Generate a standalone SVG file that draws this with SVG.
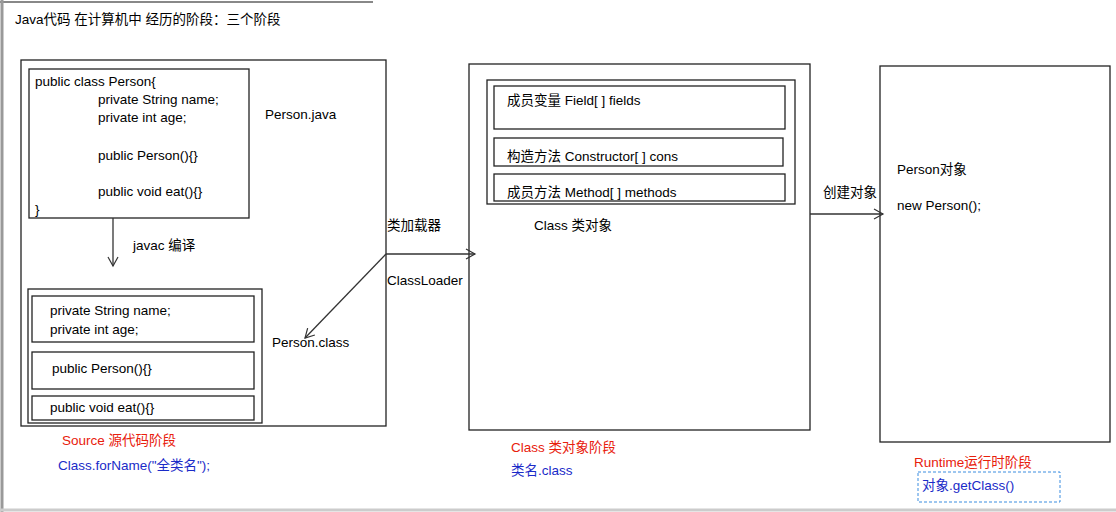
<svg xmlns="http://www.w3.org/2000/svg" width="1116" height="512" viewBox="0 0 1116 512">
<style>
text{font-family:"Liberation Sans","Noto Sans CJK SC",sans-serif;font-size:13.5px;fill:#000}
.b{fill:#fff;stroke:#222;stroke-width:1.3}
.r{fill:#e8200c}
.u{fill:#1a2bc8}
.c{stroke:#333;stroke-width:1.3;fill:none}
</style>
<defs><marker id="a" markerWidth="12" markerHeight="12" refX="10" refY="6" orient="auto" markerUnits="userSpaceOnUse"><path d="M1,1 L10,6 L1,11" fill="none" stroke="#333" stroke-width="1.2"/></marker></defs>
<rect width="1116" height="512" fill="#fff"/>
<line x1="0" y1="2" x2="373" y2="2" stroke="#888" stroke-width="2"/>
<line x1="2" y1="0" x2="2" y2="512" stroke="#999" stroke-width="3"/>
<line x1="0" y1="510" x2="1116" y2="510" stroke="#ccc" stroke-width="3"/>
<text x="15" y="24">Java代码 在计算机中 经历的阶段：三个阶段</text>
<g id="source">
<rect class="b" x="21" y="60" width="365" height="366"/>
<rect class="b" x="29" y="69" width="220" height="149"/>
<text x="35" y="86">public class Person{</text>
<text x="98" y="104">private String name;</text>
<text x="98" y="122">private int age;</text>
<text x="98" y="160">public Person(){}</text>
<text x="98" y="196">public void eat(){}</text>
<text x="35" y="214">}</text>
<text x="265" y="119">Person.java</text>
<rect class="b" x="28" y="289" width="234" height="134"/>
<rect class="b" x="32" y="296" width="222" height="46"/>
<text x="50" y="315">private String name;</text>
<text x="50" y="334">private int age;</text>
<rect class="b" x="32" y="352" width="222" height="37"/>
<text x="52" y="373">public Person(){}</text>
<rect class="b" x="32" y="396" width="222" height="24"/>
<text x="50" y="412">public void eat(){}</text>
<text x="272" y="347">Person.class</text>
<text x="133" y="250">javac 编译</text>
<text class="r" x="62" y="445">Source 源代码阶段</text>
<text class="u" x="58" y="470">Class.forName("全类名");</text>
</g>
<g id="classobj">
<rect class="b" x="469" y="64" width="341" height="366"/>
<rect class="b" x="487" y="80" width="308" height="124"/>
<rect class="b" x="494" y="86" width="291" height="43"/>
<text x="507" y="105">成员变量  Field[ ] fields</text>
<rect class="b" x="494" y="138" width="289" height="28"/>
<text x="507" y="161">构造方法  Constructor[ ] cons</text>
<rect class="b" x="494" y="174" width="291" height="27"/>
<text x="507" y="197">成员方法 Method[ ] methods</text>
<text x="534" y="230">Class 类对象</text>
<text class="r" x="511" y="452">Class 类对象阶段</text>
<text class="u" x="511" y="475">类名.class</text>
</g>
<g id="runtime">
<rect class="b" x="880" y="66" width="230" height="376"/>
<text x="897" y="174">Person对象</text>
<text x="897" y="210">new Person();</text>
<text class="r" x="914" y="467">Runtime运行时阶段</text>
<rect x="918" y="472" width="142" height="30" fill="none" stroke="#3b8de0" stroke-dasharray="3,2"/>
<text class="u" x="922" y="490">对象.getClass()</text>
</g>
<g id="connectors">
<line class="c" x1="113" y1="218" x2="113" y2="266" marker-end="url(#a)"/>
<line class="c" x1="386" y1="254" x2="475" y2="254" marker-end="url(#a)"/>
<line class="c" x1="386" y1="254" x2="305" y2="338" marker-end="url(#a)"/>
<line class="c" x1="810" y1="214" x2="883" y2="214" marker-end="url(#a)"/>
<text x="387" y="230">类加载器</text>
<text x="387" y="285">ClassLoader</text>
<text x="823" y="197">创建对象</text>
</g>
</svg>
